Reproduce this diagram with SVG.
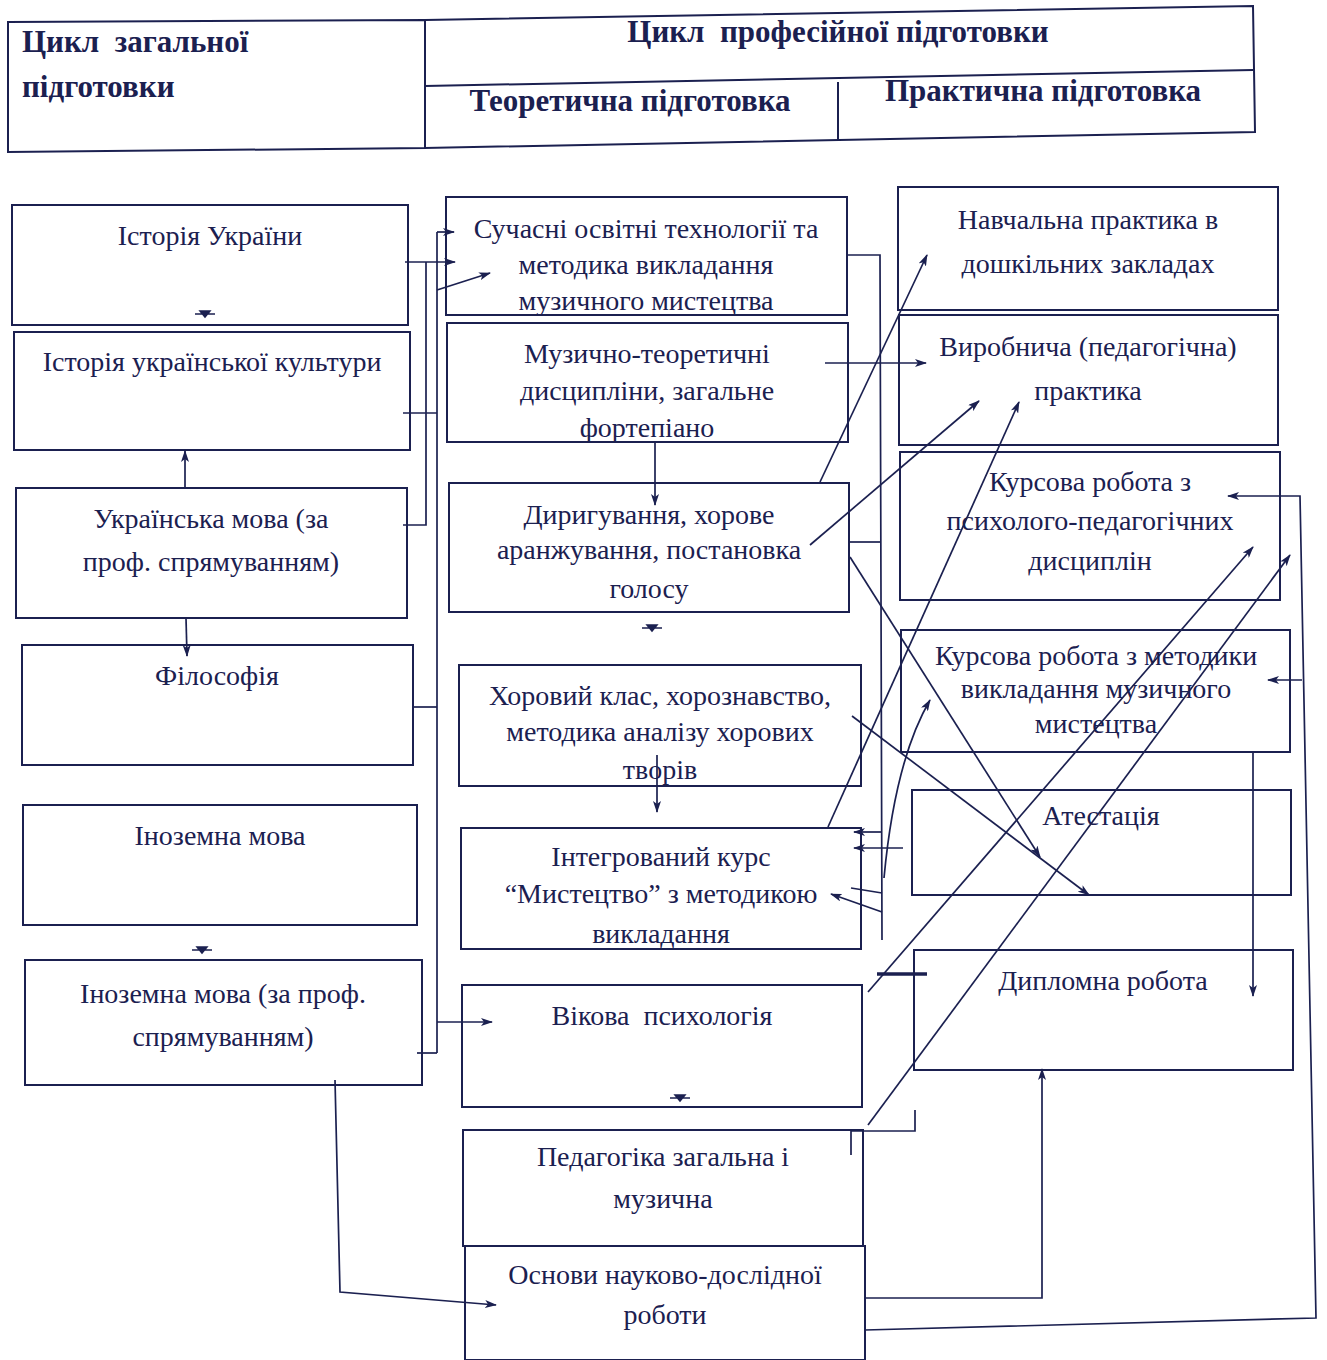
<svg xmlns="http://www.w3.org/2000/svg" width="1327" height="1360" viewBox="0 0 1327 1360">
<style>
.bx{fill:none;stroke:#1b2050;stroke-width:2}
.t{font-family:"Liberation Serif","Times New Roman",serif;font-size:28px;fill:#1b2050;text-anchor:middle}
.h{font-family:"Liberation Serif","Times New Roman",serif;font-size:31px;font-weight:bold;fill:#1b2050}
.c{fill:none;stroke:#1b2050;stroke-width:1.7}
.a{fill:none;stroke:#1b2050;stroke-width:1.7;marker-end:url(#ah)}
.mk{fill:#1b2050;stroke:#1b2050;stroke-width:1.5}
</style>
<defs>
<marker id="ah" viewBox="0 0 12 8" refX="11" refY="4" markerWidth="12" markerHeight="8" markerUnits="userSpaceOnUse" orient="auto"><path d="M0,0 L12,4 L0,8 L3,4 z" fill="#1b2050"/></marker>
</defs>
<rect width="1327" height="1360" fill="#ffffff"/>

<g id="header">
<polygon class="bx" points="8,22 425,20 425,148 8,152"/>
<polygon class="bx" points="425,20 1253,6 1255,132 425,148"/>
<line class="bx" x1="425" y1="86" x2="1253" y2="70"/>
<line class="bx" x1="838" y1="82" x2="838" y2="140"/>
<text class="h" x="22" y="52" xml:space="preserve">Цикл  загальної</text>
<text class="h" x="22" y="97">підготовки</text>
<text class="h" x="838" y="42" text-anchor="middle" xml:space="preserve">Цикл  професійної підготовки</text>
<text class="h" x="630" y="111" text-anchor="middle">Теоретична підготовка</text>
<text class="h" x="1043" y="101" text-anchor="middle">Практична підготовка</text>
</g>

<g id="n1"><rect class="bx" x="12" y="205" width="396" height="120"/><text class="t" x="210" y="245">Історія України</text></g>
<g id="n2"><rect class="bx" x="14" y="332" width="396" height="118"/><text class="t" x="212" y="371">Історія української культури</text></g>
<g id="n3"><rect class="bx" x="16" y="488" width="391" height="130"/><text class="t" x="211" y="528">Українська мова (за</text><text class="t" x="211" y="571">проф. спрямуванням)</text></g>
<g id="n4"><rect class="bx" x="22" y="645" width="391" height="120"/><text class="t" x="217" y="685">Філософія</text></g>
<g id="n5"><rect class="bx" x="23" y="805" width="394" height="120"/><text class="t" x="220" y="845">Іноземна мова</text></g>
<g id="n6"><rect class="bx" x="25" y="960" width="397" height="125"/><text class="t" x="223" y="1003">Іноземна мова (за проф.</text><text class="t" x="223" y="1046">спрямуванням)</text></g>

<g id="n7"><rect class="bx" x="446" y="197" width="401" height="118"/><text class="t" x="646" y="238">Сучасні освітні технології та</text><text class="t" x="646" y="274">методика викладання</text><text class="t" x="646" y="310">музичного мистецтва</text></g>
<g id="n8"><rect class="bx" x="447" y="323" width="401" height="119"/><text class="t" x="647" y="363">Музично-теоретичні</text><text class="t" x="647" y="400">дисципліни, загальне</text><text class="t" x="647" y="437">фортепіано</text></g>
<g id="n9"><rect class="bx" x="449" y="483" width="400" height="129"/><text class="t" x="649" y="524">Диригування, хорове</text><text class="t" x="649" y="559">аранжування, постановка</text><text class="t" x="649" y="598">голосу</text></g>
<g id="n10"><rect class="bx" x="459" y="665" width="402" height="121"/><text class="t" x="660" y="705">Хоровий клас, хорознавство,</text><text class="t" x="660" y="741">методика аналізу хорових</text><text class="t" x="660" y="779">творів</text></g>
<g id="n11"><rect class="bx" x="461" y="828" width="400" height="121"/><text class="t" x="661" y="866">Інтегрований курс</text><text class="t" x="661" y="903">“Мистецтво” з методикою</text><text class="t" x="661" y="943">викладання</text></g>
<g id="n12"><rect class="bx" x="462" y="985" width="400" height="122"/><text class="t" x="662" y="1025" xml:space="preserve">Вікова  психологія</text></g>
<g id="n13"><rect class="bx" x="463" y="1130" width="400" height="116"/><text class="t" x="663" y="1166">Педагогіка загальна і</text><text class="t" x="663" y="1208">музична</text></g>
<g id="n14"><rect class="bx" x="465" y="1246" width="400" height="114"/><text class="t" x="665" y="1284">Основи науково-дослідної</text><text class="t" x="665" y="1324">роботи</text></g>

<g id="n15"><rect class="bx" x="898" y="187" width="380" height="123"/><text class="t" x="1088" y="229">Навчальна практика в</text><text class="t" x="1088" y="273">дошкільних закладах</text></g>
<g id="n16"><rect class="bx" x="899" y="315" width="379" height="130"/><text class="t" x="1088" y="356">Виробнича (педагогічна)</text><text class="t" x="1088" y="400">практика</text></g>
<g id="n17"><rect class="bx" x="900" y="452" width="380" height="148"/><text class="t" x="1090" y="491">Курсова робота з</text><text class="t" x="1090" y="530">психолого-педагогічних</text><text class="t" x="1090" y="570">дисциплін</text></g>
<g id="n18"><rect class="bx" x="901" y="630" width="389" height="122"/><text class="t" x="1096" y="665">Курсова робота з методики</text><text class="t" x="1096" y="698">викладання музичного</text><text class="t" x="1096" y="733">мистецтва</text></g>
<g id="n19"><rect class="bx" x="912" y="790" width="379" height="105"/><text class="t" x="1101" y="825">Атестація</text></g>
<g id="n20"><rect class="bx" x="914" y="950" width="379" height="120"/><text class="t" x="1103" y="990">Дипломна робота</text></g>

<g id="connectors">
<polyline class="a" points="405,262 455,262"/>
<polyline class="c" points="403,525 426,525 426,262"/>
<polyline class="c" points="437,1053 437,232"/>
<polyline class="a" points="437,232 454,232"/>
<polyline class="a" points="437,290 490,273"/>
<polyline class="c" points="403,413 437,413"/>
<polyline class="c" points="413,707 437,707"/>
<polyline class="c" points="417,1053 437,1053"/>
<polyline class="a" points="437,1022 492,1022"/>
<polyline class="a" points="335,1080 340,1292 496,1305"/>
<polyline class="a" points="185,488 185,451"/>
<polyline class="a" points="186,618 187,656"/>
<polyline class="a" points="655,442 655,505"/>
<polyline class="a" points="657,755 657,812"/>
<polyline class="c" points="847,255 880,255 882,940"/>
<polyline class="c" points="849,542 881,542"/>
<polyline class="a" points="882,832 854,832"/>
<polyline class="a" points="903,848 854,848"/>
<polyline class="c" points="882,893 851,888"/>
<polyline class="a" points="882,912 831,894"/>
<polyline class="a" points="825,363 926,363"/>
<polyline class="a" points="820,482 927,255"/>
<polyline class="a" points="810,545 979,401"/>
<polyline class="a" points="828,827 1019,402"/>
<polyline class="a" points="850,557 1040,857"/>
<polyline class="a" points="852,716 1089,895"/>
<polyline class="a" points="868,992 1253,547"/>
<polyline class="a" points="868,1125 1290,555"/>
<path class="a" d="M884,878 Q895,760 930,700"/>
<line x1="877" y1="974" x2="927" y2="974" stroke="#1b2050" stroke-width="3.5"/>
<polyline class="c" points="915,1110 915,1131 851,1131 851,1155"/>
<polyline class="a" points="1253,752 1253,996"/>
<polyline class="a" points="865,1330 1316,1318 1300,496 1228,496"/>
<polyline class="a" points="1302,680 1268,680"/>
<polyline class="a" points="865,1298 1042,1298 1042,1069"/>
<path class="mk" d="M195,314 L215,314 M200,311 L210,311 L205,317 z"/>
<path class="mk" d="M642,628 L662,628 M647,625 L657,625 L652,631 z"/>
<path class="mk" d="M192,950 L212,950 M197,947 L207,947 L202,953 z"/>
<path class="mk" d="M670,1098 L690,1098 M675,1095 L685,1095 L680,1101 z"/>
</g>
</svg>
